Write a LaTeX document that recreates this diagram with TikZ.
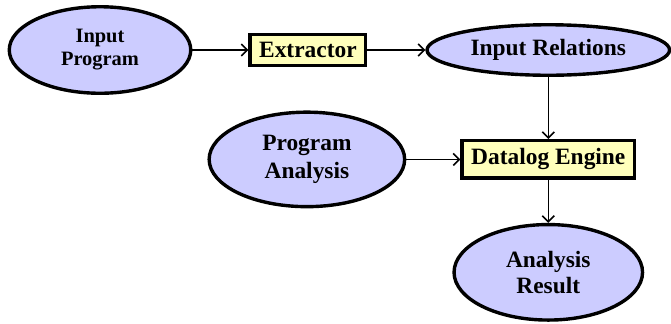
\documentclass[tikz,border=0pt]{standalone}
\usepackage{fontspec}
\setmainfont{Liberation Serif}
\usepackage{tikz}
\usepackage{xcolor}
\usetikzlibrary{shapes.geometric, arrows, arrows.meta, positioning}

\definecolor{dataBlue}{HTML}{CCCCFF}
\definecolor{toolYellow}{HTML}{FFFFBB}

\tikzset{
  data/.style={ellipse, draw, line width=3.4bp, fill=dataBlue, inner sep=0pt, align=center,
    font=\fontsize{23.5}{27}\selectfont\bfseries},
  tool/.style={rectangle, draw, line width=3.4bp, fill=toolYellow, inner sep=0pt,
    font=\fontsize{23.5}{27}\selectfont\bfseries},
  flow/.style={-{Straight Barb[length=6bp, width=12bp, line width=1.6bp]}, line width=1.6bp}
}

\begin{document}
\begin{tikzpicture}[x=1bp, y=1bp]
\useasboundingbox (0,0) rectangle (671,-323);

\node[data, minimum width=181.5bp, minimum height=86.5bp,
  font=\fontsize{20.5}{23}\selectfont\bfseries] (inprog) at (100,-50) {Input\\Program};
\node[tool, minimum width=115.5bp, minimum height=31.5bp, right=56bp of inprog] (extractor) {Extractor};
\node[data, minimum width=242.5bp, minimum height=50.5bp, right=58bp of extractor] (inrel) {Input Relations};
\node[tool, minimum width=172.5bp, minimum height=37.5bp, below=62bp of inrel] (engine) {Datalog Engine};
\node[data, minimum width=195.5bp, minimum height=94.5bp, left=54bp of engine,
  font=\fontsize{23.5}{28}\selectfont\bfseries] (analysis) {Program\\Analysis};
\node[data, minimum width=188.5bp, minimum height=95.5bp, below=43bp of engine,
  font=\fontsize{23.5}{26}\selectfont\bfseries] (result) {Analysis\\Result};

% pipeline
\draw[flow] (inprog) -- (extractor);
\draw[flow] (extractor) -- (inrel);
\draw[flow] (inrel) -- (engine);
\draw[flow] (analysis) -- (engine);
\draw[flow] (engine) -- (result);
\end{tikzpicture}
\end{document}
